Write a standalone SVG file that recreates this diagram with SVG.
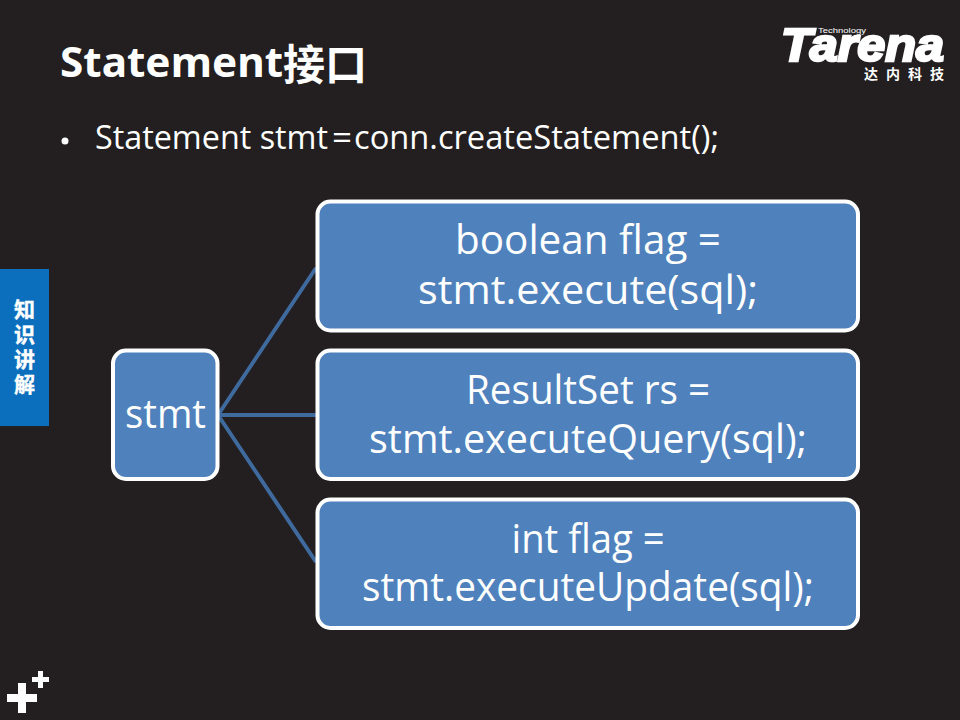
<svg xmlns="http://www.w3.org/2000/svg" width="960" height="720" viewBox="0 0 960 720">
<style>
text{font-family:"Open Sans","Noto Sans CJK SC",sans-serif;fill:#fff}
.b{fill:#4f81bd;stroke:#fff;stroke-width:4}
.t{font-size:40px;text-anchor:middle}
.c{stroke:#3f6a9e;stroke-width:4;fill:none}
.s{font-family:"Noto Sans CJK SC",sans-serif;font-weight:700;font-size:21px;stroke:#fff;stroke-width:.4;writing-mode:vertical-rl;letter-spacing:4px}
</style>
<rect width="960" height="720" fill="#231f20"/>
<text x="60" y="77" font-size="42" font-weight="700" style="font-family:'Noto Sans','Noto Sans CJK SC',sans-serif"><tspan textLength="223" lengthAdjust="spacingAndGlyphs">Statement</tspan><tspan dy="3" font-size="42" font-family="'Noto Sans CJK SC',sans-serif">接口</tspan></text>
<circle cx="65" cy="141" r="3.500" fill="#fff"/>
<text y="148.500" font-size="32"><tspan x="95" textLength="233" lengthAdjust="spacingAndGlyphs">Statement stmt</tspan><tspan x="332" textLength="20" lengthAdjust="spacingAndGlyphs">=</tspan><tspan x="354" textLength="365" lengthAdjust="spacingAndGlyphs">conn.createStatement();</tspan></text>
<g id="side-tab">
<rect x="0" y="269" width="49" height="157" fill="#0b6fbd"/>
<text class="s" x="24.500" y="299">知识讲解</text>
</g>
<g id="logo">
<text x="781" y="61" font-size="46" font-style="italic" textLength="163" lengthAdjust="spacingAndGlyphs" style="font-family:'Liberation Sans',sans-serif;font-weight:700;stroke:#fff;stroke-width:2.500">Tarena</text>
<text x="818" y="33" font-size="8" textLength="48" lengthAdjust="spacingAndGlyphs" style="font-family:'Liberation Sans',sans-serif">Technology</text>
<text x="864" y="79" font-size="14" font-weight="700" letter-spacing="8" style="font-family:'Noto Sans CJK SC',sans-serif">达内科技</text>
</g>
<g id="plus" fill="#fff">
<path d="M18 683h8v11h11v8h-11v11h-8v-11h-11v-8h11z"/>
<path d="M38 671h5v6h6v5h-6v6h-5v-6h-6v-5h6z"/>
</g>
<g id="connectors">
<path class="c" d="M218 415L316 268M218 415H316M218 415L316 562"/>
</g>
<g id="n-stmt"><rect class="b" x="113" y="350.500" width="104.500" height="128.500" rx="13"/><text class="t" x="165.500" y="428" textLength="81" lengthAdjust="spacingAndGlyphs">stmt</text></g>
<g id="n-execute"><rect class="b" x="317.500" y="201.500" width="540.500" height="129" rx="13"/><text class="t" x="588" y="254" textLength="266" lengthAdjust="spacingAndGlyphs">boolean flag =</text><text class="t" x="588" y="304" textLength="340" lengthAdjust="spacingAndGlyphs">stmt.execute(sql);</text></g>
<g id="n-query"><rect class="b" x="317.500" y="350.500" width="540.500" height="128.500" rx="13"/><text class="t" x="588" y="404" textLength="244" lengthAdjust="spacingAndGlyphs">ResultSet rs =</text><text class="t" x="588" y="453" textLength="438" lengthAdjust="spacingAndGlyphs">stmt.executeQuery(sql);</text></g>
<g id="n-update"><rect class="b" x="317.500" y="499.500" width="540.500" height="128.500" rx="13"/><text class="t" x="588" y="553" textLength="153" lengthAdjust="spacingAndGlyphs">int flag =</text><text class="t" x="588" y="601" textLength="452" lengthAdjust="spacingAndGlyphs">stmt.executeUpdate(sql);</text></g>
</svg>
